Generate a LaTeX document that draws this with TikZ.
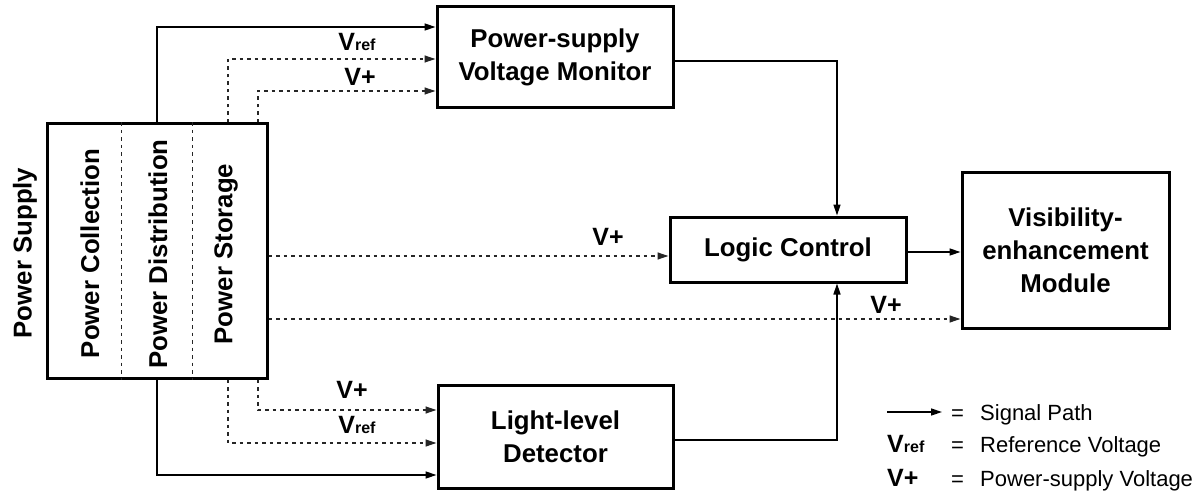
\documentclass[tikz,border=0pt]{standalone}
\usepackage{fontspec}
\setmainfont{Liberation Sans}
\usetikzlibrary{arrows.meta}
\newcommand{\Vref}{V{\fontsize{16}{16}\selectfont ref}}
\begin{document}
\begin{tikzpicture}[x=1pt,y=-1pt,
  box/.style={draw, line width=3pt, inner sep=0pt, align=center,
    font=\bfseries\fontsize{25.8}{33}\selectfont},
  rot/.style={rotate=90, inner sep=0pt, font=\bfseries\fontsize{25.8}{30}\selectfont},
  lab/.style={anchor=base, inner sep=0pt, font=\bfseries\fontsize{25}{30}\selectfont},
  leg/.style={anchor=base west, inner sep=0pt, font=\fontsize{22}{26}\selectfont},
  sig/.style={line width=1.5pt, -{Triangle[length=11pt,width=7pt]}},
  pw/.style={line width=1.2pt, black!85, dash pattern=on 3.5pt off 4pt, -{Triangle[length=11pt,width=7pt]}},
  divider/.style={line width=1pt, black!85, dash pattern=on 3.5pt off 4pt}
]
\useasboundingbox (0,0) rectangle (1200,492);

% boxes
\node[box, minimum width=220pt, minimum height=254pt] (ps) at (157,251) {};
\node[box, minimum width=236pt, minimum height=101pt] (psvm) at (555,57.5) {Power-supply\\Voltage Monitor};
\node[box, minimum width=235pt, minimum height=103pt] (ld) at (555.5,436.5) {Light-level\\Detector};
\node[box, minimum width=236pt, minimum height=65pt] (lc) at (788,249.5) {Logic Control};
\node[box, minimum width=207pt, minimum height=155pt] (vem) at (1065.5,250.5) {Visibility-\\enhancement\\Module};

% power supply contents
\draw[divider] (ps.north -| 121,0) -- (ps.south -| 121,0);
\draw[divider] (ps.north -| 192,0) -- (ps.south -| 192,0);
\node[rot] (tsup) at (25,253) {Power Supply};
\node[rot] (tcol) at (90,253.5) {Power Collection};
\node[rot] (tdis) at (158,254) {Power Distribution};
\node[rot] (tsto) at (226,254) {Power Storage};

% top connections
\draw[sig] (ps.north) |- (psvm.west |- 0,27);
\draw[pw] (ps.north -| 228,0) |- (psvm.west |- 0,59);
\draw[pw] (ps.north -| 258,0) |- (psvm.west |- 0,91);
\node[lab] (lvref1) at (357,51) {\Vref};
\node[lab] (lvp1) at (360,86) {V+};

% bottom connections
\draw[sig] (ps.south) |- (ld.west |- 0,475);
\draw[pw] (ps.south -| 228,0) |- (ld.west |- 0,443);
\draw[pw] (ps.south -| 258,0) |- (ld.west |- 0,410);
\node[lab] (lvp2) at (352,398) {V+};
\node[lab] (lvref2) at (357,433) {\Vref};

% middle connections
\draw[pw] (ps.east |- 0,256) -- (lc.west |- 0,256);
\node[lab] (lvp3) at (608,245) {V+};
\draw[pw] (ps.east |- 0,319) -- (vem.west |- 0,319);
\node[lab] (lvp4) at (886,313) {V+};

\draw[sig] (psvm.east |- 0,61) -| (lc.north -| 837,0);
\draw[sig] (ld.east |- 0,440) -| (lc.south -| 837,0);
\draw[sig] (lc.east |- 0,252) -- (vem.west |- 0,252);

% legend
\coordinate (lga) at (887,412);
\coordinate (lgb) at (942,412);
\draw[sig] (lga) -- (lgb);
\node[leg] (eq1) at (951,420) {=};
\node[leg] (t1) at (980,420) {Signal Path};
\node[lab, anchor=base west] (lvref3) at (887,452) {\Vref};
\node[leg] (eq2) at (951,452) {=};
\node[leg] (t2) at (980,452) {Reference Voltage};
\node[lab, anchor=base west] (lvp5) at (887,486) {V+};
\node[leg] (eq3) at (951,486) {=};
\node[leg] (t3) at (980,486) {Power-supply Voltage};
\end{tikzpicture}
\end{document}
